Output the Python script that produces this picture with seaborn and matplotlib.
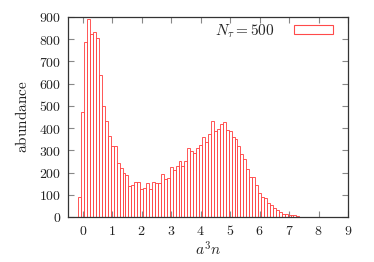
import numpy as np
import pandas as pd
import matplotlib
matplotlib.use("Agg")
import matplotlib.pyplot as plt
import seaborn as sns
from matplotlib.patches import Patch

# ---- data ----
bin_start = -0.2
bin_width = 0.1
counts = [2, 88, 472, 787, 891, 825, 832, 804, 637, 501,
          433, 363, 321, 321, 243, 220, 200, 188, 140, 145,
          157, 157, 128, 131, 151, 126, 157, 153, 153, 194,
          172, 175, 225, 213, 231, 250, 231, 250, 310, 295,
          288, 310, 322, 360, 337, 372, 430, 385, 397, 420,
          427, 393, 385, 360, 352, 318, 285, 262, 216, 178,
          178, 143, 110, 90, 84, 63, 52, 40, 30, 22,
          15, 15, 7, 8, 9, 3, 2, 1]
x_ticks = [0, 1, 2, 3, 4, 5, 6, 7, 8, 9]
y_ticks = [0, 100, 200, 300, 400, 500, 600, 700, 800, 900]
legend_label = r"$N_\tau = 500$"
x_label = r"$a^3n$"
y_label = r"$\mathrm{abundance}$"

centers = np.round(bin_start + bin_width * np.arange(len(counts)), 2)
df = pd.DataFrame({"x": centers, "n": counts})
lo = bin_start - bin_width / 2
hi = lo + bin_width * len(counts)

sns.set_theme(style="white")
plt.rcParams["mathtext.fontset"] = "cm"
plt.rcParams["font.family"] = ["DejaVu Serif"]

fig = plt.figure(figsize=(3.74, 2.62), dpi=100)
ax = fig.add_axes([68 / 374, 1 - 217 / 262, (348 - 68) / 374, (217 - 17) / 262])

red = "#ff4a4a"
sns.histplot(data=df, x="x", weights="n", binwidth=bin_width, binrange=(lo, hi),
             fill=False, color=red, linewidth=0.65, element="bars", ax=ax)

ax.set_xlim(-0.5, 9)
ax.set_ylim(0, 900)
ax.set_xticks(x_ticks)
ax.set_xticklabels([f"${v}$" for v in x_ticks])
ax.set_yticks(y_ticks)
ax.set_yticklabels([f"${v}$" for v in y_ticks])
ax.tick_params(axis="both", direction="in", length=4, width=0.8, color="#888888",
               labelsize=10, top=True, right=True, bottom=True, left=True,
               labelcolor="#222222", pad=5)
for s in ax.spines.values():
    s.set_color("#333333")
    s.set_linewidth(0.9)

ax.set_xlabel(x_label, fontsize=11, color="#222222", labelpad=2)
ax.set_ylabel(y_label, fontsize=11, color="#222222", labelpad=6)

handle = Patch(facecolor="none", edgecolor=red, linewidth=0.8)
ax.legend([handle], [legend_label], loc="upper right", frameon=False,
          bbox_to_anchor=((333 - 68) / 280, (217 - 22) / 200),
          markerfirst=False, fontsize=11, handlelength=2.55, handleheight=0.55,
          borderaxespad=0.0, handletextpad=1.25, borderpad=0.0)

fig.savefig("out.png", dpi=100)
